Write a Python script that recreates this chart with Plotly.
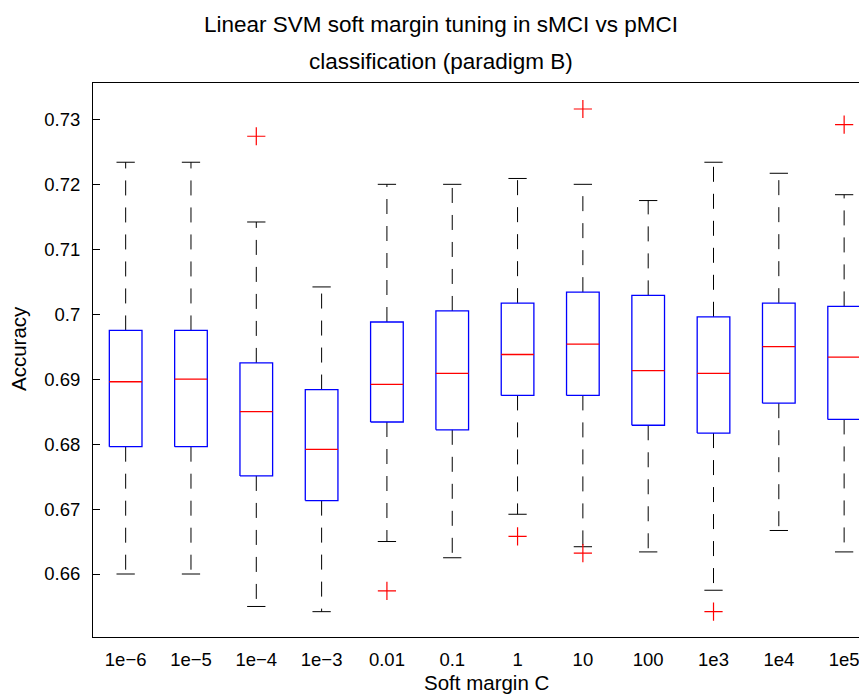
import plotly.graph_objects as go

categories = ["1e\u22126", "1e\u22125", "1e\u22124", "1e\u22123", "0.01", "0.1",
              "1", "10", "100", "1e3", "1e4", "1e5"]
lower_whisker = [0.6600, 0.6600, 0.6550, 0.6542, 0.6650, 0.6625, 0.6692, 0.6642, 0.6634, 0.6575, 0.6667, 0.6634]
q1 = [0.6796, 0.6796, 0.6751, 0.6713, 0.6834, 0.6822, 0.6875, 0.6875, 0.6829, 0.6817, 0.6863, 0.6838]
median = [0.6896, 0.6900, 0.6850, 0.6792, 0.6892, 0.6909, 0.6938, 0.6954, 0.6913, 0.6909, 0.6950, 0.6934]
q3 = [0.6975, 0.6975, 0.6925, 0.6884, 0.6988, 0.7005, 0.7017, 0.7034, 0.7029, 0.6996, 0.7017, 0.7012]
upper_whisker = [0.7234, 0.7234, 0.7142, 0.7042, 0.7200, 0.7200, 0.7209, 0.7200, 0.7175, 0.7234, 0.7217, 0.7184]
outlier_cat = ["1e\u22124", "0.01", "1", "10", "10", "1e3", "1e5"]
outlier_val = [0.7274, 0.6574, 0.6658, 0.7316, 0.6632, 0.6542, 0.7292]

y_tick_vals = [0.66, 0.67, 0.68, 0.69, 0.70, 0.71, 0.72, 0.73]

BOX_HW = 0.25
CAP_HW = 0.14
FONT = "Liberation Sans, Arial, Helvetica, sans-serif"

pos = list(range(1, len(categories) + 1))

wx, wy, cx, cy, bx, by, mx, my = [], [], [], [], [], [], [], []
for i, p in enumerate(pos):
    # whiskers (box edge -> cap)
    wx += [p, p, None, p, p, None]
    wy += [q3[i], upper_whisker[i], None, q1[i], lower_whisker[i], None]
    # caps
    cx += [p - CAP_HW, p + CAP_HW, None, p - CAP_HW, p + CAP_HW, None]
    cy += [upper_whisker[i], upper_whisker[i], None, lower_whisker[i], lower_whisker[i], None]
    # box
    bx += [p - BOX_HW, p + BOX_HW, p + BOX_HW, p - BOX_HW, p - BOX_HW, None]
    by += [q1[i], q1[i], q3[i], q3[i], q1[i], None]
    # median
    mx += [p - BOX_HW, p + BOX_HW, None]
    my += [median[i], median[i], None]

ox = [pos[categories.index(c)] for c in outlier_cat]

fig = go.Figure()
fig.add_trace(go.Scatter(x=wx, y=wy, mode="lines", line=dict(color="black", width=1, dash="15px,12px"),
                         hoverinfo="skip", showlegend=False))
fig.add_trace(go.Scatter(x=cx, y=cy, mode="lines", line=dict(color="black", width=1),
                         hoverinfo="skip", showlegend=False))
fig.add_trace(go.Scatter(x=bx, y=by, mode="lines", line=dict(color="#0000ff", width=1.3),
                         hoverinfo="skip", showlegend=False))
fig.add_trace(go.Scatter(x=mx, y=my, mode="lines", line=dict(color="#ff0000", width=1.3),
                         hoverinfo="skip", showlegend=False))
fig.add_trace(go.Scatter(x=ox, y=outlier_val, mode="markers",
                         marker=dict(symbol="cross-thin", size=13, line=dict(color="#ff0000", width=1.2)),
                         showlegend=False))

# page body has an 8px margin; figure occupies window pixels 8..867 x 8..694
OFF = 8
W, H = 867 - OFF, 694 - OFF
L, R, T, B = 85, 0, 75, 57
pw, ph = W - L - R, H - T - B

def px_x(x):
    # x in window pixels
    return (x - OFF - L) / pw

def px_y(y):
    # y in window pixels
    return (H - B - (y - OFF)) / ph

fig.update_layout(
    width=W, height=H,
    margin=dict(l=L, r=R, t=T, b=B),
    paper_bgcolor="white", plot_bgcolor="white",
    font=dict(family=FONT, color="black", size=18),
    showlegend=False,
    xaxis=dict(range=[0.5, 12.35], tickvals=pos, ticktext=categories, showgrid=False, zeroline=False,
               showline=True, linecolor="black", linewidth=1, mirror=True, ticks="",
               tickfont=dict(size=18.5), ticklabelstandoff=6),
    yaxis=dict(range=[0.6503, 0.7356], tickvals=y_tick_vals, showgrid=False, zeroline=False,
               showline=True, linecolor="black", linewidth=1, ticks="inside", ticklen=7,
               tickcolor="black", tickfont=dict(size=18.5), ticklabelstandoff=8),
    annotations=[
        dict(text="Linear SVM soft margin tuning in sMCI vs pMCI", x=px_x(441), y=px_y(24),
             xref="paper", yref="paper", showarrow=False, xanchor="center", yanchor="middle",
             font=dict(size=22.5)),
        dict(text="classification (paradigm B)", x=px_x(441), y=px_y(61),
             xref="paper", yref="paper", showarrow=False, xanchor="center", yanchor="middle",
             font=dict(size=22.5)),
        dict(text="Soft margin C", x=px_x(487), y=px_y(682),
             xref="paper", yref="paper", showarrow=False, xanchor="center", yanchor="middle",
             font=dict(size=20.5)),
        dict(text="Accuracy", x=px_x(18), y=px_y(349), textangle=-90,
             xref="paper", yref="paper", showarrow=False, xanchor="center", yanchor="middle",
             font=dict(size=20.5)),
    ],
)

fig.write_html("out.html")
